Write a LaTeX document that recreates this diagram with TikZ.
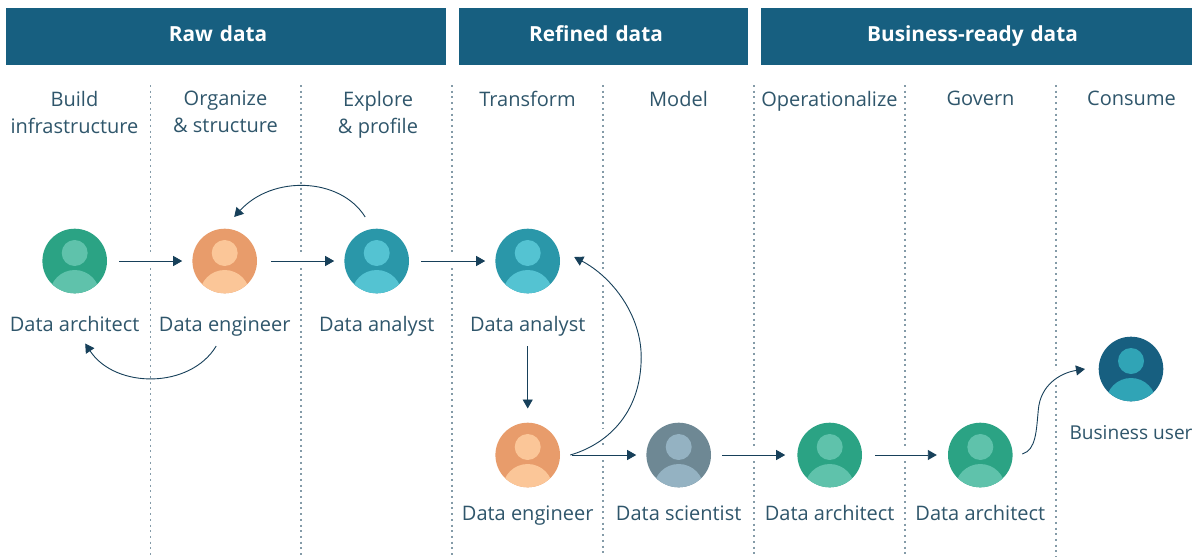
\documentclass[tikz,border=0pt]{standalone}
\usepackage{fontspec}
\setmainfont{Open Sans}
\usetikzlibrary{arrows.meta,calc}
\definecolor{band}{HTML}{175F80}
\definecolor{ink}{HTML}{2F566B}
\definecolor{wire}{HTML}{17405A}
\definecolor{sep}{HTML}{849BA8}
\definecolor{greenA}{HTML}{2BA384}\definecolor{greenB}{HTML}{5FC2AB}
\definecolor{orangeA}{HTML}{E89C6B}\definecolor{orangeB}{HTML}{FBC698}
\definecolor{tealA}{HTML}{2A97A9}\definecolor{tealB}{HTML}{54C3D2}
\definecolor{slateA}{HTML}{6E8894}\definecolor{slateB}{HTML}{94B2C2}
\definecolor{navyA}{HTML}{175F80}\definecolor{navyB}{HTML}{30A4B6}
\tikzset{
  bandbox/.style={fill=band,draw=none,text=white,font=\fontsize{20.8}{24}\selectfont\bfseries,inner sep=0pt,text height=14pt,text depth=5pt,align=center},
  coltext/.style={text=ink,font=\fontsize{20}{27}\selectfont,align=center,inner sep=0pt},
  rolelabel/.style={text=ink,font=\fontsize{20}{24}\selectfont,inner sep=0pt},
  avatar/.style={circle,minimum size=64.6pt,inner sep=0pt,draw=none},
  divider/.style={sep,line width=1.9pt,dash pattern=on 2pt off 3.7pt},
  flow/.style={wire,line width=0.9pt,-{Triangle[length=9pt,width=10pt]}},
  straightflow/.style={flow,shorten <=12pt,shorten >=10pt}
}
\newcommand{\person}[6]{%
  \node[avatar,fill=#4A] (#1) at (#2,#3) {};
  \begin{scope}
    \clip (#2,#3) circle (32.3);
    \fill[#4B] ($(#1)+(0,-8)$) circle (13);
    \fill[#4B] ($(#1)+(0,34)$) circle (25);
  \end{scope}
  \node[rolelabel,anchor=base] (#1l) at (#2,#3+#6) {#5};
}
\begin{document}
\begin{tikzpicture}[x=1pt,y=-1pt]
\useasboundingbox (0,0) rectangle (1192,557);
\fill[white] (0,0) rectangle (1192,557);
\node[bandbox,minimum width=440pt,minimum height=57pt,text width=440pt] (b1) at (226,36.5) {\hspace*{-16pt}Raw data};
\node[bandbox,minimum width=289pt,minimum height=57pt,text width=289pt] (b2) at (603.5,36.5) {\hspace*{-15pt}Refined data};
\node[bandbox,minimum width=431pt,minimum height=57pt,text width=431pt] (b3) at (976.5,36.5) {\hspace*{-8pt}Business-ready data};
\foreach \x/\ya/\yb in {150.5/85/255,150.5/268/557,
                        301/85/255,301/268/557,
                        452/85/255,452/268/557,
                        603/85/270,603/285/428,603/443/446,603/460/557,
                        754/85/448,754/461/557,
                        905/85/448,905/461/557,
                        1056/85/370,1056/385/557}{
  \draw[divider] (\x,\ya) -- (\x,\yb);
}
\node[coltext,anchor=north] (h1) at (74.5,91) {Build\\infrastructure};
\node[coltext,anchor=north] (h2) at (225.5,91) {Organize\\\& structure};
\node[coltext,anchor=north] (h3) at (378,91) {Explore\\\& profile};
\node[coltext,anchor=north] (h4) at (527.5,91) {Transform};
\node[coltext,anchor=north] (h5) at (678.5,91) {Model};
\node[coltext,anchor=north] (h6) at (829.5,91) {Operationalize};
\node[coltext,anchor=north] (h7) at (980.5,91) {Govern};
\node[coltext,anchor=north] (h8) at (1131.5,91) {Consume};
\person{archA}{74.7}{261}{green}{Data architect}{70}
\person{engA}{224.7}{261}{orange}{Data engineer}{70}
\person{anA}{376.7}{261}{teal}{Data analyst}{70}
\person{anB}{527.7}{261}{teal}{Data analyst}{70}
\person{engB}{527.7}{455}{orange}{Data engineer}{65}
\person{sci}{678.7}{455}{slate}{Data scientist}{65}
\person{archB}{829.7}{455}{green}{Data architect}{65}
\person{archC}{980.3}{455}{green}{Data architect}{65}
\person{biz}{1131}{369}{navy}{\fontsize{19.1}{24}\selectfont Business user}{70}
\draw[straightflow] (archA) -- (engA);
\draw[straightflow,shorten <=14pt] (engA) -- (anA);
\draw[straightflow] (anA) -- (anB);
\draw[straightflow] (engB) -- (sci);
\draw[straightflow,shorten <=11pt,shorten >=12pt] (sci) -- (archB);
\draw[straightflow,shorten <=13pt,shorten >=11pt] (archB) -- (archC);
\draw[flow] ($(anBl.south)+(0,10)$) -- ($(engB.north)+(0,-14)$);
\draw[flow] ($(anA)+(-11.5,-44)$) .. controls ($(anA)+(-36.5,-84)$) and ($(anA)+(-104.5,-86)$) .. ($(engA)+(9.5,-44)$);
\draw[flow] ($(engAl)+(-8.5,20)$) .. controls ($(engAl)+(-34.5,63)$) and ($(engAl)+(-109.5,63)$) .. ($(archAl)+(10.5,20)$);
\draw[flow] ($(engB)+(42.5,0)$) .. controls ($(engB)+(77.5,-10)$) and ($(engB)+(113.5,-40)$) .. ($(engB)+(113.5,-98)$) .. controls ($(engB)+(113.5,-140)$) and ($(anB)+(84.5,16)$) .. ($(anB)+(46.5,-4)$);
\draw[flow] ($(archC)+(42,-1)$) .. controls ($(archC)+(56,-5)$) and ($(archC)+(56,-25)$) .. ($(archC)+(58,-45)$) .. controls ($(archC)+(60,-70)$) and ($(biz)+(-71,4)$) .. ($(biz)+(-46,0)$);
\end{tikzpicture}
\end{document}
